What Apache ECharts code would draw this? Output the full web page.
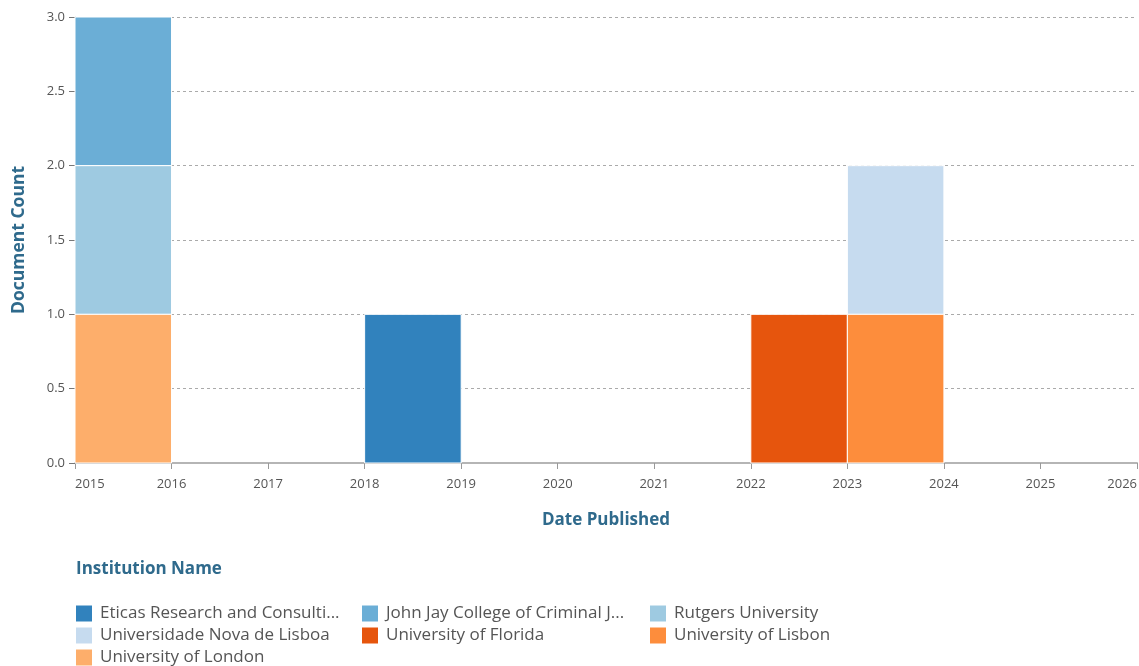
<!DOCTYPE html>
<html>
<head>
<meta charset="utf-8">
<script src="https://cdn.jsdelivr.net/npm/echarts@6/dist/echarts.min.js"></script>
<style>
html,body{margin:0;padding:0;background:#fff;}
#chart{width:1139px;height:666px;}
</style>
</head>
<body>
<div id="chart"></div>
<script>
// Institutions (legend order) and their colours
var institutions = [
  'Eticas Research and Consulting',
  'John Jay College of Criminal Justice',
  'Rutgers University',
  'Universidade Nova de Lisboa',
  'University of Florida',
  'University of Lisbon',
  'University of London'
];
var colors = ['#3182bd','#6baed6','#9ecae1','#c6dbef','#e6550d','#fd8d3c','#fdae6b'];
// Histogram bins (start year of each 1-year bin) and document counts per institution
var binStarts = [2015, 2018, 2022, 2023];
var counts = {
  'Eticas Research and Consulting':       [0, 1, 0, 0],
  'John Jay College of Criminal Justice': [1, 0, 0, 0],
  'Rutgers University':                   [1, 0, 0, 0],
  'Universidade Nova de Lisboa':          [0, 0, 0, 1],
  'University of Florida':                [0, 0, 1, 0],
  'University of Lisbon':                 [0, 0, 0, 1],
  'University of London':                 [1, 0, 0, 0]
};
var binWidth = 1;
var xTicks = {min: 2015, max: 2026, interval: 1};
var yTicks = {min: 0, max: 3, interval: 0.5};

var titleColor = '#2f6a8c';
var font = '"Open Sans", Lato, sans-serif';

// stack from the bottom in reverse legend order
var stackOrder = institutions.slice().reverse();
var base = binStarts.map(function(){return 0;});
var seriesMap = {};
stackOrder.forEach(function(name){
  var d = [];
  counts[name].forEach(function(c, i){
    if (c > 0) {
      d.push([binStarts[i], binStarts[i] + binWidth, base[i], base[i] + c]);
      base[i] += c;
    }
  });
  seriesMap[name] = d;
});

var series = institutions.map(function(name, idx){
  return {
    name: name,
    type: 'custom',
    itemStyle: {color: colors[idx]},
    encode: {x: [0, 1], y: [2, 3]},
    renderItem: function(params, api){
      var p0 = api.coord([api.value(0), api.value(3)]);
      var p1 = api.coord([api.value(1), api.value(2)]);
      return {
        type: 'rect',
        shape: {x: p0[0], y: p0[1], width: p1[0] - p0[0], height: p1[1] - p0[1]},
        style: {fill: colors[idx], stroke: '#ffffff', lineWidth: 1}
      };
    },
    data: seriesMap[name]
  };
});

function legendCol(left, names){
  return {
    left: left, top: 600, height: 90, orient: 'vertical',
    itemWidth: 16, itemHeight: 16, itemGap: 5, icon: 'rect',
    selectedMode: false,
    data: names,
    textStyle: {fontFamily: font, fontSize: 17, lineHeight: 16, color: '#555', width: 244,
                overflow: 'truncate', ellipsis: '...', padding: [0, 0, 0, 3]}
  };
}

var chart = echarts.init(document.getElementById('chart'));
chart.setOption({
  animation: false,
  backgroundColor: '#ffffff',
  color: colors,
  title: [{
    text: 'Institution Name', left: 71, top: 556,
    textStyle: {fontFamily: font, fontSize: 17, fontWeight: 'bold', color: titleColor}
  }],
  legend: [
    legendCol(71, [institutions[0], institutions[3], institutions[6]]),
    legendCol(357, [institutions[1], institutions[4]]),
    legendCol(645, [institutions[2], institutions[5]])
  ],
  grid: {left: 75, right: 2, top: 17, bottom: 203, containLabel: false, outerBoundsMode: 'none'},
  xAxis: {
    type: 'value', min: xTicks.min, max: xTicks.max, interval: xTicks.interval,
    name: 'Date Published', nameLocation: 'middle', nameGap: 49,
    nameTextStyle: {fontFamily: font, fontSize: 17, fontWeight: 'bold', color: titleColor},
    axisLine: {show: true, lineStyle: {color: '#b5b5b5', width: 2}},
    axisTick: {show: true, length: 6, lineStyle: {color: '#999'}},
    axisLabel: {fontFamily: font, fontSize: 13, color: '#555', margin: 15,
                alignMinLabel: 'left', alignMaxLabel: 'right',
                formatter: function(v){return String(v);}},
    splitLine: {show: false}
  },
  yAxis: {
    type: 'value', min: yTicks.min, max: yTicks.max, interval: yTicks.interval,
    name: 'Document Count', nameLocation: 'middle', nameGap: 47,
    nameTextStyle: {fontFamily: font, fontSize: 17.5, fontWeight: 'bold', color: titleColor},
    axisLine: {show: true, lineStyle: {color: '#b5b5b5', width: 1}},
    axisTick: {show: true, length: 6, lineStyle: {color: '#777'}},
    axisLabel: {fontFamily: font, fontSize: 13, color: '#555', margin: 10, formatter: function(v){return v.toFixed(1);}},
    splitLine: {show: true, lineStyle: {color: '#aaa', type: [3, 3], width: 1}}
  },
  series: series
});
</script>
</body>
</html>
